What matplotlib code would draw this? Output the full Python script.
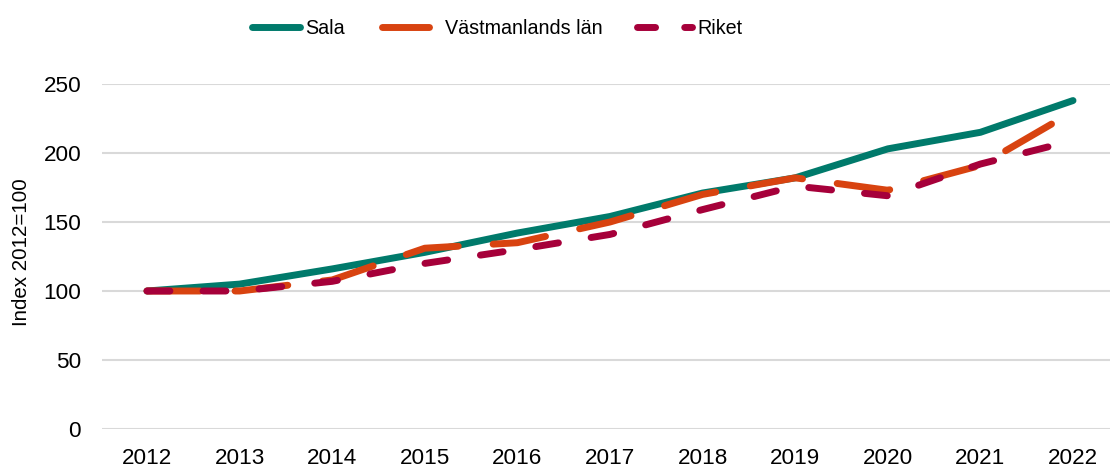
import matplotlib
matplotlib.use("Agg")
import matplotlib.pyplot as plt
from matplotlib.lines import Line2D

years = [2012, 2013, 2014, 2015, 2016, 2017, 2018, 2019, 2020, 2021, 2022]
sala = [100, 105, 116, 128, 142, 154, 171, 182, 203, 215, 238]
vastmanland = [100, 100, 108, 131, 135, 150, 170, 182, 173, 191, 230]
riket = [100, 100, 107, 120, 130, 141, 159, 176, 169, 192, 209]
yticks = [0, 50, 100, 150, 200, 250]
series_names = ["Sala", "Västmanlands län", "Riket"]

plt.rcParams['font.family'] = ['Liberation Sans', 'DejaVu Sans']

W, H = 1110, 468
fig = plt.figure(figsize=(W / 100, H / 100), dpi=100)
ax = fig.add_axes([102 / W, 1 - 429 / H, 1008 / W, 345 / H])

c_sala = "#007A6B"
c_vast = "#D84310"
c_riket = "#A6003A"
lw = 5
dash_vast = (7.64, 5.04)
dash_riket = (3.3, 4.77)

ax.plot(years, sala, color=c_sala, lw=lw, solid_capstyle='round', solid_joinstyle='round', zorder=3)
ax.plot(years, vastmanland, color=c_vast, lw=lw, dashes=dash_vast, dash_capstyle='round',
        dash_joinstyle='round', zorder=4)
ax.plot(years, riket, color=c_riket, lw=lw, dashes=dash_riket, dash_capstyle='round',
        dash_joinstyle='round', zorder=5)

ax.set_xlim(2011.514, 2011.514 + 1008 / 92.6)
ax.set_ylim(0, 250)
ax.set_yticks(yticks)
ax.set_xticks(years)
ax.set_xticklabels([str(y) for y in years])
ax.grid(axis='y', color='#D9D9D9', lw=1.5)
ax.set_axisbelow(True)
for s in ax.spines.values():
    s.set_visible(False)
ax.tick_params(axis='both', length=0, labelsize=16.2, colors='black')
ax.tick_params(axis='x', pad=14)
ax.tick_params(axis='y', pad=15)

fig.text(22 / W, 1 - 252 / H, "Index 2012=100", rotation=90, ha='center', va='center', fontsize=14.8)

# legend (manual layout, matching reference spacing)
ly = 1 - 27 / H
lb = 1 - 34.5 / H
leg_items = [
    (251.5, 299.5, 305, c_sala, None),
    (381.5, 428.5, 445, c_vast, None),
    (636.5, 691.5, 697, c_riket, (2.6, 4.2)),
]
for (x0, x1, xt, col, dsh), name in zip(leg_items, series_names):
    kw = dict(color=col, lw=lw, transform=fig.transFigure, solid_capstyle='round',
              dash_capstyle='round')
    if dsh is not None:
        kw['dashes'] = dsh
    fig.add_artist(Line2D([x0 / W, x1 / W], [ly, ly], **kw))
    fig.text(xt / W, lb, name, ha='left', va='baseline', fontsize=14.2)

fig.savefig("out.png", dpi=100)
